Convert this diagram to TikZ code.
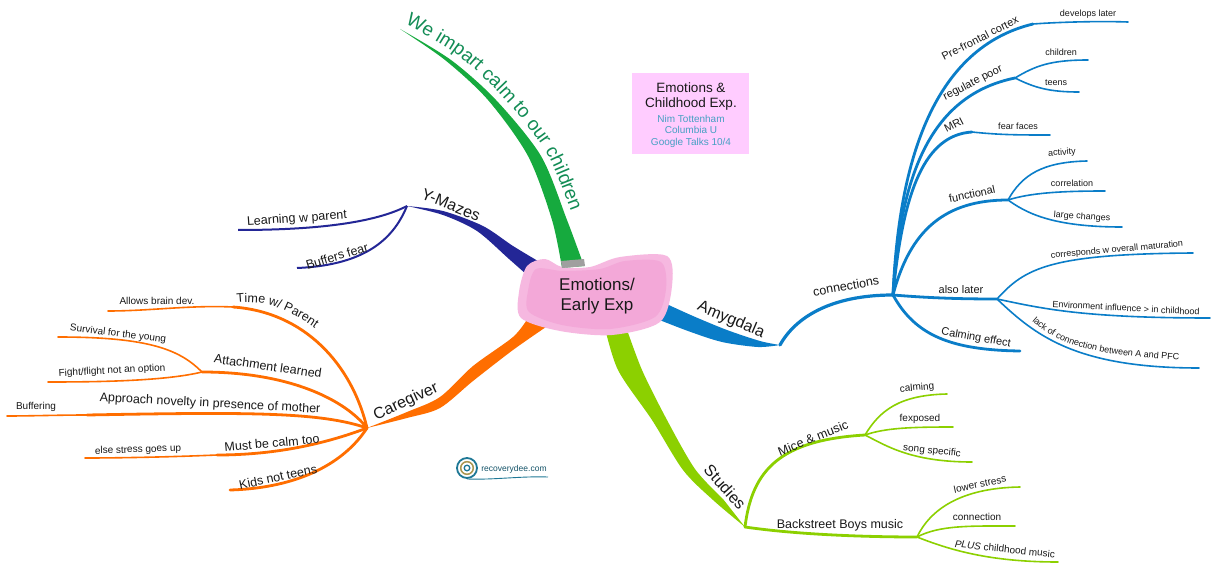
\documentclass[tikz,border=0pt]{standalone}
\usepackage{fontspec}
\setmainfont{Liberation Sans}
\usetikzlibrary{decorations.text}

\definecolor{cgorange}{RGB}{255,110,0}
\definecolor{ymblue}{RGB}{35,38,150}
\definecolor{amblue}{RGB}{10,125,200}
\definecolor{stgreen}{RGB}{140,208,0}
\definecolor{wegreen}{RGB}{22,170,62}
\definecolor{wetext}{RGB}{18,140,85}
\definecolor{blobpink}{RGB}{243,168,216}
\definecolor{blobedge}{RGB}{246,184,224}
\definecolor{boxpink}{RGB}{255,204,255}
\definecolor{boxteal}{RGB}{70,160,195}
\definecolor{txt}{RGB}{25,25,25}
\definecolor{logoteal}{RGB}{30,120,150}
\definecolor{logoolive}{RGB}{170,150,80}

\begin{document}
\begin{tikzpicture}[x=1pt,y=-1pt,
    bigtopic/.style={font=\fontsize{16}{18}\selectfont,text=txt,inner sep=0pt},
    topic/.style={font=\fontsize{12.5}{14}\selectfont,text=txt,inner sep=0pt},
    subtopic/.style={font=\fontsize{11}{12}\selectfont,text=txt,inner sep=0pt},
    leaf/.style={font=\fontsize{10}{11}\selectfont,text=txt,inner sep=0pt},
    fineleaf/.style={font=\fontsize{9}{10}\selectfont,text=txt,inner sep=0pt},
    bough/.style={line width=2.8pt,line cap=round},
    twig/.style={line width=1.6pt,line cap=round}]

    \fill[white] (0,0) rectangle (1219,575);
    \useasboundingbox (0,0) rectangle (1219,575);

    % joints
    \coordinate (ctr) at (597,296);
    \coordinate (we) at (400,29);
    \coordinate (ym) at (407,206);
    \coordinate (am) at (780,345);
    \coordinate (con) at (893,295);
    \coordinate (cg) at (367,428);
    \coordinate (st) at (745,527);

    % Main branches
    \fill[wegreen] plot[smooth] coordinates {(we) (445,60) (488,100) (528,156) (552,220) (562,268)}
        -- plot[smooth] coordinates {(584,266) (567,220) (541,156) (496,100) (451,60) (we)} -- cycle;
    \fill[ymblue] plot[smooth] coordinates {(ym) (443,211) (483,226) (513,246) (543,264)}
        -- plot[smooth] coordinates {(535,282) (509,259) (477,231) (443,215) (ym)} -- cycle;
    \fill[amblue] plot[smooth] coordinates {(am) (760,341) (727,330) (693,316) (660,301)}
        -- plot[smooth] coordinates {(652,317) (688,331) (722,342) (758,347) (am)} -- cycle;
    \fill[cgorange] plot[smooth] coordinates {(cg) (407,412) (440,397) (473,366) (513,337) (528,318)}
        -- plot[smooth] coordinates {(546,327) (513,350) (473,381) (440,408) (407,418) (cg)} -- cycle;
    \fill[stgreen] plot[smooth] coordinates {(604,324) (618,370) (652,420) (683,470) (713,500) (st)}
        -- plot[smooth] coordinates {(723,499) (695,469) (667,420) (642,370) (625,324)} -- cycle;

    % Centre
    \fill[blobedge] plot[smooth cycle] coordinates {(519,292) (527,266) (545,259) (562,267) (590,267)
        (620,257) (667,256) (672,286) (660,322) (612,335) (560,331) (521,318)};
    \fill[blobpink] plot[smooth cycle] coordinates {(528,291) (536,269) (563,271) (600,269) (625,261)
        (661,262) (666,289) (655,317) (610,329) (562,325) (529,312)};
    \fill[gray!75] (561,261) -- (584,259) -- (585,266) -- (562,268) -- cycle;
    \node[font=\fontsize{17}{19.5}\selectfont,text=txt,align=center,inner sep=0pt] (ctrtxt) at (ctr) {Emotions/\\Early Exp};

    \path[decorate,decoration={text along path,text color=wetext,
        text={|\fontsize{19}{19}\selectfont|We impart calm to our children}}]
        plot[smooth] coordinates {(405,24) (456,54) (501,95) (546,152) (572,214) (587,254)};

    % Y-Mazes
    \coordinate (lwp) at (238,230);
    \coordinate (bff) at (297,268);
    \draw[ymblue,line width=2pt] (ym) .. controls (380,220) and (330,230) .. (lwp);
    \draw[ymblue,line width=2pt] (ym) .. controls (395,235) and (370,265) .. (bff);
    \node[bigtopic,rotate=-22] (yml) at (451,205) {Y-Mazes};
    \node[topic,rotate=4] (lwpl) at (297,219) {Learning w parent};
    \node[topic,rotate=17] (bffl) at (337,256) {Buffers fear};

    % Caregiver
    \coordinate (tp) at (233,307);
    \coordinate (abd) at (108,311);
    \coordinate (al) at (202,372);
    \coordinate (sfy) at (58,337);
    \coordinate (ffl) at (48,382);
    \coordinate (an) at (87,415);
    \coordinate (buf) at (7,416);
    \coordinate (mc) at (217,455);
    \coordinate (esg) at (85,458);
    \coordinate (knt) at (230,490);
    \draw[cgorange,bough] (cg) .. controls (352,365) and (305,312) .. (tp);
    \draw[cgorange,twig] (tp) .. controls (190,305) and (150,311) .. (abd);
    \draw[cgorange,bough] (cg) .. controls (345,400) and (290,372) .. (al);
    \draw[cgorange,twig] (al) .. controls (180,350) and (150,337) .. (sfy);
    \draw[cgorange,twig] (al) .. controls (165,381) and (100,382) .. (ffl);
    \draw[cgorange,bough] (cg) .. controls (320,412) and (250,412) .. (an);
    \draw[cgorange,twig] (an) .. controls (60,415) and (30,416) .. (buf);
    \draw[cgorange,bough] (cg) .. controls (330,442) and (280,455) .. (mc);
    \draw[cgorange,twig] (mc) .. controls (170,457) and (120,458) .. (esg);
    \draw[cgorange,bough] (cg) .. controls (345,462) and (300,488) .. (knt);
    \node[bigtopic,rotate=25] (cgl) at (406,402) {Caregiver};
    \path[decorate,decoration={text along path,text color=txt,
        text={|\fontsize{12.5}{14}\selectfont|Time w/ Parent}}]
        (237,303) .. controls (262,300) and (290,306) .. (330,340);
    \node[leaf] (abdl) at (157,301) {Allows brain dev.};
    \node[topic,rotate=-8] (all) at (268,366) {Attachment learned};
    \node[leaf,rotate=-7] (sfyl) at (118,334) {Survival for the young};
    \node[leaf,rotate=3] (ffll) at (112,371) {Fight/flight not an option};
    \node[topic,rotate=-3] (anl) at (210,404) {Approach novelty in presence of mother};
    \node[leaf] (bufl) at (36,407) {Buffering};
    \node[topic,rotate=5] (mcl) at (272,443) {Must be calm too};
    \node[leaf,rotate=2] (esgl) at (138,450) {else stress goes up};
    \node[topic,rotate=12] (kntl) at (278,477) {Kids not teens};

    % Amygdala
    \coordinate (pfc) at (1033,24);
    \coordinate (dvl) at (1128,22);
    \coordinate (rp) at (1015,78);
    \coordinate (chd) at (1088,60);
    \coordinate (tns) at (1079,92);
    \coordinate (mri) at (972,132);
    \coordinate (ffc) at (1050,135);
    \coordinate (fun) at (1008,200);
    \coordinate (act) at (1087,161);
    \coordinate (cor) at (1105,191);
    \coordinate (lgc) at (1122,227);
    \coordinate (alt) at (997,299);
    \coordinate (cwm) at (1193,253);
    \coordinate (env) at (1210,318);
    \coordinate (lac) at (1199,368);
    \coordinate (cef) at (1020,351);
    \draw[amblue,line width=3.2pt,line cap=round] (am) .. controls (795,318) and (830,295) .. (con);
    \draw[amblue,bough] (con) .. controls (898,180) and (925,50) .. (pfc);
    \draw[amblue,twig] (pfc) .. controls (1060,22) and (1100,21) .. (dvl);
    \draw[amblue,bough] (con) .. controls (900,172) and (932,95) .. (rp);
    \draw[amblue,twig] (rp) .. controls (1035,66) and (1050,60) .. (chd);
    \draw[amblue,twig] (rp) .. controls (1035,88) and (1050,92) .. (tns);
    \draw[amblue,bough] (con) .. controls (903,190) and (925,135) .. (mri);
    \draw[amblue,twig] (mri) .. controls (1000,135) and (1020,135) .. (ffc);
    \draw[amblue,bough] (con) .. controls (910,230) and (945,200) .. (fun);
    \draw[amblue,twig] (fun) .. controls (1022,175) and (1042,162) .. (act);
    \draw[amblue,twig] (fun) .. controls (1030,193) and (1060,191) .. (cor);
    \draw[amblue,twig] (fun) .. controls (1025,212) and (1050,227) .. (lgc);
    \draw[amblue,bough] (con) .. controls (930,298) and (960,299) .. (alt);
    \draw[amblue,twig] (alt) .. controls (1025,268) and (1050,254) .. (cwm);
    \draw[amblue,twig] (alt) .. controls (1040,308) and (1080,318) .. (env);
    \draw[amblue,twig] (alt) .. controls (1035,335) and (1075,368) .. (lac);
    \draw[amblue,bough] (con) .. controls (915,335) and (950,350) .. (cef);
    \node[bigtopic,rotate=-23] (aml) at (731,320) {Amygdala};
    \node[topic,rotate=10] (conl) at (846,286) {connections};
    \node[subtopic,rotate=27] (pfcl) at (980,38) {Pre-frontal cortex};
    \node[fineleaf] (dvll) at (1088,14) {develops later};
    \node[subtopic,rotate=27] (rpl) at (973,83) {regulate poor};
    \node[fineleaf] (chdl) at (1061,52) {children};
    \node[fineleaf] (tnsl) at (1056,83) {teens};
    \node[subtopic,rotate=27] (mril) at (954,125) {MRI};
    \node[fineleaf] (ffcl) at (1018,126) {fear faces};
    \node[subtopic,rotate=12] (funl) at (972,194) {functional};
    \node[fineleaf,rotate=4] (actl) at (1062,153) {activity};
    \node[fineleaf] (corl) at (1072,183) {correlation};
    \node[fineleaf,rotate=-4] (lgcl) at (1082,217) {large changes};
    \node[subtopic] (altl) at (961,290) {also later};
    \node[fineleaf,rotate=5] (cwml) at (1117,250) {corresponds w overall maturation};
    \node[fineleaf,rotate=-3] (envl) at (1126,308) {Environment influence > in childhood};
    \path[decorate,decoration={text along path,text color=txt,
        text={|\fontsize{9}{10}\selectfont|lack of connection between A and PFC}}]
        (1032,321) .. controls (1060,345) and (1090,357) .. (1205,361);
    \node[subtopic,rotate=-10] (cefl) at (976,338) {Calming effect};

    % Studies
    \coordinate (mm) at (865,435);
    \coordinate (clm) at (947,394);
    \coordinate (fex) at (953,427);
    \coordinate (ssp) at (972,462);
    \coordinate (bbm) at (917,537);
    \coordinate (lst) at (1020,487);
    \coordinate (cnx) at (1015,526);
    \coordinate (pcm) at (1058,562);
    \draw[stgreen,bough] (st) .. controls (752,470) and (780,440) .. (mm);
    \draw[stgreen,twig] (mm) .. controls (880,410) and (900,395) .. (clm);
    \draw[stgreen,twig] (mm) .. controls (885,428) and (910,427) .. (fex);
    \draw[stgreen,twig] (mm) .. controls (885,445) and (910,462) .. (ssp);
    \draw[stgreen,bough] (st) .. controls (800,535) and (870,537) .. (bbm);
    \draw[stgreen,twig] (bbm) .. controls (930,510) and (960,488) .. (lst);
    \draw[stgreen,twig] (bbm) .. controls (940,525) and (970,526) .. (cnx);
    \draw[stgreen,twig] (bbm) .. controls (950,550) and (990,562) .. (pcm);
    \node[bigtopic,rotate=-48] (stl) at (725,487) {Studies};
    \node[topic,rotate=22] (mml) at (813,438) {Mice \& music};
    \node[leaf,rotate=5] (clml) at (917,388) {calming};
    \node[leaf] (fexl) at (920,419) {fexposed};
    \node[leaf,rotate=-6] (sspl) at (932,451) {song specific};
    \node[topic] (bbml) at (840,525) {Backstreet Boys music};
    \node[leaf,rotate=12] (lstl) at (980,484) {lower stress};
    \node[leaf] (cnxl) at (977,517) {connection};
    \node[leaf,rotate=-6] (pcml) at (1005,549) {\itshape PLUS\upshape{} childhood music};

    % Title box
    \node[fill=boxpink,minimum width=117pt,minimum height=81pt,inner sep=0pt] (info) at (690.5,113.5) {};
    \node[font=\fontsize{13.5}{15}\selectfont,text=txt,align=center,inner sep=0pt] (infott) at (691,96.5) {Emotions \&\\Childhood Exp.};
    \node[font=\fontsize{10}{11.5}\selectfont,text=boxteal,align=center,inner sep=0pt] (infotk) at (691,131) {Nim Tottenham\\Columbia U\\Google Talks 10/4};

    % Logo
    \coordinate (logo) at (467,468);
    \draw[logoteal,line width=0.9pt] (logo) ++(0,11) .. controls (495,480) and (520,476) .. (548,477);
    \draw[logoteal,line width=1.8pt] (logo) circle (10);
    \draw[logoolive,line width=1.5pt] (logo) circle (6.3);
    \draw[logoteal,line width=1.3pt] (logo) circle (2.8);
    \node[font=\fontsize{8.5}{9}\selectfont,text=logoteal!70!black,inner sep=0pt] (logol) at (514,469) {recoverydee.com};
\end{tikzpicture}
\end{document}
